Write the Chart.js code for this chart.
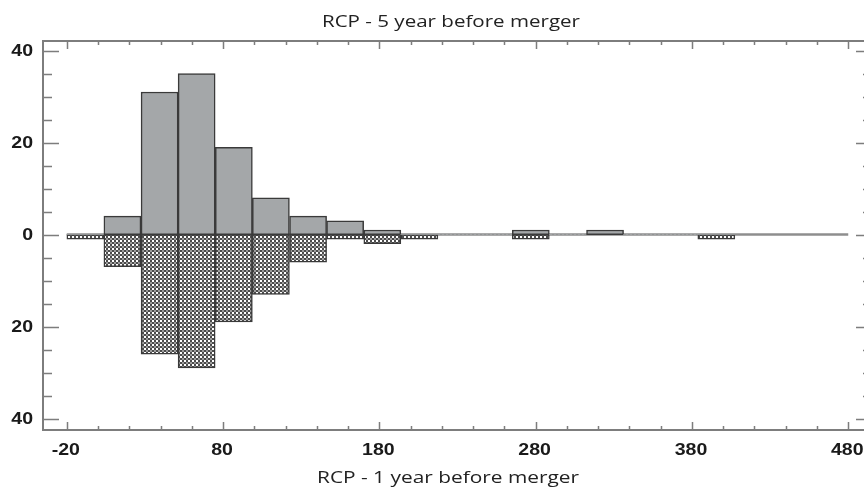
<!DOCTYPE html>
<html>
<head>
<meta charset="utf-8">
<script src="https://cdn.jsdelivr.net/npm/chart.js@4.4.1/dist/chart.umd.min.js"></script>
<style>
  html, body { margin: 0; padding: 0; background: #fff; overflow: hidden; }
  #histo { display: block; }
</style>
</head>
<body>
<canvas id="histo" width="876" height="490"></canvas>
<script>
// bin centres (bins ~23.75 wide, first bin starts at -20)
const binCenters = [-8.1, 15.6, 39.4, 63.1, 86.9, 110.6, 134.4, 158.1, 181.9, 205.6, 229.4, 253.1, 276.9, 300.6, 324.4, 348.1, 371.9, 395.6];
const fiveYear = [0, 4, 31, 35, 19, 8, 4, 3, 1, 0, 0, 0, 1, 0, 1, 0, 0, 0];
const oneYear  = [1, 7, 26, 29, 19, 13, 6, 1, 2, 1, 0, 0, 1, 0, 0, 0, 0, 1];

const xTicks = [-20, 80, 180, 280, 380, 480];
const xMinorStep = 20;
const yTicks = [40, 20, 0, -20, -40];
const yMinorStep = 5;

const topTitle = 'RCP - 5 year before merger';
const bottomTitle = 'RCP - 1 year before merger';

// checkered fill for the lower histogram
function makePattern() {
    const c = document.createElement('canvas');
    c.width = 4; c.height = 4;
    const g = c.getContext('2d');
    g.fillStyle = '#4c4c4c';
    g.fillRect(0, 0, 4, 4);
    g.fillStyle = '#ffffff';
    g.fillRect(0, 0, 2, 2);
    g.fillStyle = '#9c9c9c';
    g.fillRect(2, 2, 2, 2);
    return g.createPattern(c, 'repeat');
}

const frameColor = '#7d7d7d';

// the source picture is a little stretched sideways, so text is too
function wideText(ctx, text, x, y, sx) {
    ctx.save();
    ctx.translate(x, y);
    ctx.scale(sx, 1);
    ctx.fillText(text, 0, 0);
    ctx.restore();
}

function fitText(ctx, text, cx, y, width) {
    const w = ctx.measureText(text).width;
    wideText(ctx, text, cx, y, width / w);
}

const axesPlugin = {
    id: 'axesPlugin',
    beforeDatasetsDraw(chart) {
        const ctx = chart.ctx, xs = chart.scales.x, ys = chart.scales.y;
        const y0 = ys.getPixelForValue(0);
        ctx.save();
        ctx.strokeStyle = '#8e8e8e';
        ctx.lineWidth = 2.5;
        ctx.beginPath();
        ctx.moveTo(xs.getPixelForValue(xTicks[0]), y0);
        ctx.lineTo(xs.getPixelForValue(xTicks[xTicks.length - 1]), y0);
        ctx.stroke();
        ctx.restore();
    },
    afterDatasetsDraw(chart) {
        const ctx = chart.ctx, a = chart.chartArea;
        const xs = chart.scales.x, ys = chart.scales.y;
        ctx.save();
        ctx.strokeStyle = frameColor;
        ctx.lineWidth = 2;
        ctx.strokeRect(a.left, a.top, a.right - a.left, a.bottom - a.top);

        ctx.lineWidth = 1.5;
        ctx.beginPath();
        // x ticks (inward, top and bottom)
        for (let v = xTicks[0]; v <= xTicks[xTicks.length - 1]; v += xMinorStep) {
            const px = Math.round(xs.getPixelForValue(v)) + 0.5;
            const len = xTicks.includes(v) ? 8 : 4;
            ctx.moveTo(px, a.bottom); ctx.lineTo(px, a.bottom - len);
            ctx.moveTo(px, a.top); ctx.lineTo(px, a.top + len);
        }
        // y ticks (inward, left and right)
        for (let v = -40; v <= 40; v += yMinorStep) {
            const py = Math.round(ys.getPixelForValue(v)) + 0.5;
            const len = v % 20 === 0 ? 16 : 9;
            ctx.moveTo(a.left, py); ctx.lineTo(a.left + len, py);
            ctx.moveTo(a.right, py); ctx.lineTo(a.right - len, py);
        }
        ctx.stroke();

        // tick labels
        ctx.fillStyle = '#1a1a1a';
        ctx.font = 'bold 17px "Liberation Sans", Arial, sans-serif';
        ctx.textAlign = 'right';
        ctx.textBaseline = 'middle';
        yTicks.forEach(v => wideText(ctx, String(Math.abs(v)), a.left - 10, ys.getPixelForValue(v) + 1, 1.15));
        ctx.textAlign = 'center';
        ctx.textBaseline = 'alphabetic';
        xTicks.forEach(v => wideText(ctx, String(v), xs.getPixelForValue(v) - 1, 455, 1.15));

        // axis titles
        ctx.font = '17px "Open Sans", sans-serif';
        ctx.fillStyle = '#222';
        fitText(ctx, topTitle, 451, 27, 258);
        fitText(ctx, bottomTitle, 448, 483, 262);
        ctx.restore();
    }
};

function zeroless(ctx) {
    return ctx.raw && ctx.raw.y === 0 ? 0 : 1.5;
}

new Chart(document.getElementById('histo').getContext('2d'), {
    type: 'bar',
    data: {
        datasets: [{
            label: topTitle,
            data: fiveYear.map((v, i) => ({ x: binCenters[i], y: v })),
            backgroundColor: '#a4a7a9',
            borderColor: '#3a3a3a',
            borderWidth: zeroless,
            borderSkipped: false,
            grouped: false,
            barPercentage: 1,
            categoryPercentage: 1
        }, {
            label: bottomTitle,
            data: oneYear.map((v, i) => ({ x: binCenters[i], y: -v })),
            backgroundColor: makePattern(),
            borderColor: '#3a3a3a',
            borderWidth: zeroless,
            borderSkipped: false,
            grouped: false,
            barPercentage: 1,
            categoryPercentage: 1
        }]
    },
    options: {
        responsive: false,
        animation: false,
        layout: {
            padding: { left: 43, top: 41, right: 4, bottom: 60 }
        },
        plugins: {
            legend: { display: false },
            tooltip: { enabled: false }
        },
        scales: {
            x: { type: 'linear', min: -35.2, max: 495.2, offset: false, display: false },
            y: { min: -42.5, max: 42.1, display: false }
        }
    },
    plugins: [axesPlugin]
});
</script>
</body>
</html>
